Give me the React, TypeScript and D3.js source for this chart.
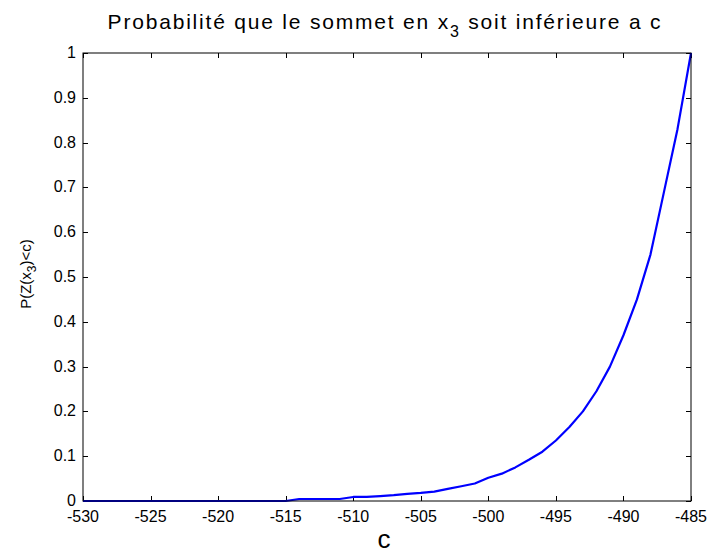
import React, { useEffect, useRef } from "react";
import * as d3 from "d3";

const cValues = [
  -530, -525, -520, -515, -514, -513, -512, -511, -510, -509, -508, -507, -506, -505, -504,
  -503, -502, -501, -500, -499, -498, -497, -496, -495, -494, -493, -492, -491, -490,
  -489, -488, -487, -486, -485,
];
const probValues = [
  0, 0, 0, 0, 0.0045, 0.0045, 0.0045, 0.0045, 0.009, 0.009, 0.011, 0.013, 0.016, 0.018, 0.021,
  0.027, 0.033, 0.039, 0.052, 0.061, 0.075, 0.092, 0.11, 0.135, 0.165, 0.2, 0.245, 0.3, 0.37,
  0.45, 0.55, 0.69, 0.83, 1,
];
const xTicks = [-530, -525, -520, -515, -510, -505, -500, -495, -490, -485];
const yTicks = [0, 0.1, 0.2, 0.3, 0.4, 0.5, 0.6, 0.7, 0.8, 0.9, 1];

const W = 711;
const H = 554;
const M = { left: 83, right: 20, top: 53, bottom: 53 };
const FONT = "'Liberation Sans', Arial, Helvetica, sans-serif";

export default function App() {
  const ref = useRef<SVGSVGElement>(null);

  useEffect(() => {
    const svg = d3.select(ref.current);
    svg.selectAll("*").remove();

    const x = d3.scaleLinear().domain([-530, -485]).range([M.left, W - M.right]);
    const y = d3.scaleLinear().domain([0, 1]).range([H - M.bottom, M.top]);
    const tickLen = 5;

    svg.append("rect").attr("width", W).attr("height", H).attr("fill", "white");

    // inward ticks on all four sides
    const g = svg.append("g").attr("stroke", "#000").attr("stroke-width", 1);
    xTicks.forEach((t) => {
      const px = Math.round(x(t)) + 0.5;
      g.append("line").attr("x1", px).attr("x2", px).attr("y1", y(0)).attr("y2", y(0) - tickLen);
      g.append("line").attr("x1", px).attr("x2", px).attr("y1", y(1)).attr("y2", y(1) + tickLen);
    });
    yTicks.forEach((t) => {
      const py = Math.round(y(t)) + 0.5;
      g.append("line").attr("x1", x(-530)).attr("x2", x(-530) + tickLen).attr("y1", py).attr("y2", py);
      g.append("line").attr("x1", x(-485)).attr("x2", x(-485) - tickLen).attr("y1", py).attr("y2", py);
    });

    // data curve
    const line = d3
      .line<number>()
      .x((_, i) => x(cValues[i]))
      .y((d) => y(d));
    svg
      .append("path")
      .datum(probValues)
      .attr("d", line)
      .attr("fill", "none")
      .attr("stroke", "#0000ff")
      .attr("stroke-width", 2.2)
      .attr("stroke-linejoin", "round");

    // axes box
    svg
      .append("rect")
      .attr("x", x(-530))
      .attr("y", y(1))
      .attr("width", x(-485) - x(-530))
      .attr("height", y(0) - y(1))
      .attr("fill", "none")
      .attr("stroke", "#000")
      .attr("stroke-width", 1);

    // tick labels
    const txt = svg.append("g").attr("font-family", FONT).attr("font-size", 16).attr("fill", "#000");
    xTicks.forEach((t) => {
      txt.append("text").attr("x", x(t)).attr("y", y(0) + 21).attr("text-anchor", "middle").text(t);
    });
    yTicks.forEach((t) => {
      txt
        .append("text")
        .attr("x", x(-530) - 7)
        .attr("y", y(t) + 5)
        .attr("text-anchor", "end")
        .text(String(t));
    });

    // title
    const title = svg
      .append("text")
      .attr("x", (x(-530) + x(-485)) / 2 - 2)
      .attr("y", 29)
      .attr("text-anchor", "middle")
      .attr("font-family", FONT)
      .attr("font-size", 21)
      .attr("letter-spacing", 1.8);
    title.append("tspan").text("Probabilité que le sommet en x");
    title.append("tspan").attr("dy", 8).attr("font-size", 16).text("3");
    title.append("tspan").attr("dy", -8).text(" soit inférieure a c");

    // x label
    svg
      .append("text")
      .attr("x", 384)
      .attr("y", 548)
      .attr("text-anchor", "middle")
      .attr("font-family", FONT)
      .attr("font-size", 26)
      .text("c");

    // y label
    const yl = svg
      .append("text")
      .attr("transform", `translate(31, ${(y(0) + y(1)) / 2 - 3}) rotate(-90)`)
      .attr("text-anchor", "middle")
      .attr("font-family", FONT)
      .attr("font-size", 15);
    yl.append("tspan").text("P(Z(x");
    yl.append("tspan").attr("dy", 5).attr("font-size", 12).text("3");
    yl.append("tspan").attr("dy", -5).text(")<c)");
  }, []);

  return (
    <svg
      ref={ref}
      width={W}
      height={H}
      style={{ position: "absolute", left: 0, top: 0, display: "block" }}
    />
  );
}
